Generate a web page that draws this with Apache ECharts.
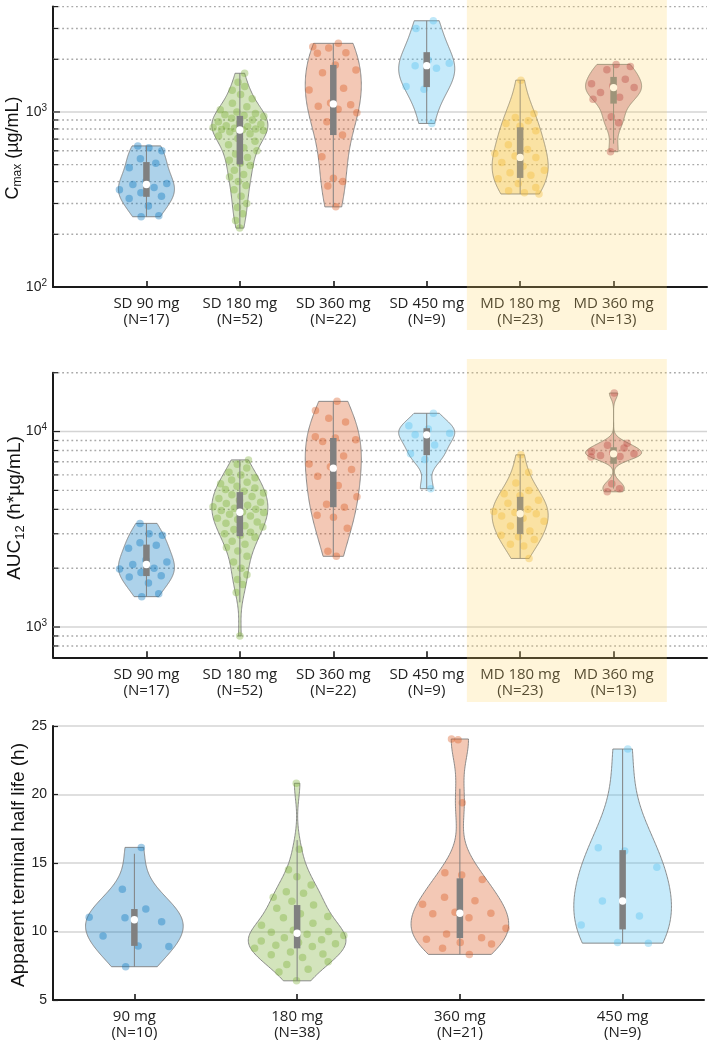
<!DOCTYPE html>
<html><head><meta charset="utf-8">
<script src="https://cdn.jsdelivr.net/npm/echarts@6/dist/echarts.min.js"></script>
<style>html,body{margin:0;padding:0;background:#fff}#c{width:709px;height:1044px}</style>
</head><body><div id="c"></div>
<script>
// ---------- categories ----------
const topCategories = ['SD 90 mg','SD 180 mg','SD 360 mg','SD 450 mg','MD 180 mg','MD 360 mg'];
const topCounts = [17,52,22,9,23,13];
const bottomCategories = ['90 mg','180 mg','360 mg','450 mg'];
const bottomCounts = [10,38,21,9];
const axisNames = ['C{sub|max} (µg/mL)', 'AUC{sub|12} (h*µg/mL)', 'Apparent terminal half life (h)'];

// ---------- Cmax (µg/mL) ----------
const cmaxSD90 = [252,255,290,320,330,345,360,370,385,390,400,480,510,540,600,625,640];
const cmaxSD180 = [217,240,262,285,300,330,360,380,400,425,440,465,495,510,530,550,575,600,625,650,680,705,730,750,770,785,792,795,800,808,815,825,835,850,865,880,900,920,945,955,965,980,1000,1030,1070,1120,1190,1260,1330,1400,1480,1664];
const cmaxSD360 = [287,378,400,418,555,738,880,991,1036,1080,1100,1125,1336,1366,1678,1739,1857,2165,2183,2320,2360,2467];
const cmaxSD450 = [860,1350,1400,1780,1840,1900,1980,3000,3320];
const cmaxMD180 = [340,345,355,370,390,415,435,450,465,490,515,550,560,580,610,650,780,830,860,890,930,980,1520];
const cmaxMD360 = [593,868,940,1182,1213,1290,1378,1413,1450,1538,1740,1820,1870];

// ---------- AUC12 (h*µg/mL) ----------
const aucSD90 = [1430,1480,1680,1800,1830,1900,1980,2000,2090,2150,2200,2530,2620,2700,2950,3000,3390];
const aucSD180 = [900,1500,1650,1750,1850,2000,2150,2300,2450,2550,2650,2750,2880,2950,3000,3050,3150,3250,3300,3400,3450,3550,3600,3700,3780,3850,3880,3950,4000,4050,4120,4200,4280,4350,4450,4550,4650,4750,4850,4950,5050,5150,5250,5400,5500,5650,5800,6000,6200,6500,6800,7160];
const aucSD360 = [2300,2440,3200,3640,3730,4100,4250,4640,5300,5900,6400,6600,6830,7500,8900,9070,9270,9400,11200,11700,12820,14270];
const aucSD450 = [5100,7200,7700,8540,9620,9800,10300,10700,12400];
const aucMD180 = [2243,2600,2650,2800,2900,2950,3100,3290,3480,3600,3700,3800,3850,3900,4000,4300,4450,4700,4800,5000,5460,6200,7600];
const aucMD360 = [4920,5100,5400,7400,7450,7550,7690,7800,7900,8250,8500,8720,15740];

// ---------- apparent terminal half life (h) ----------
const hl90 = [7.43,8.9,8.95,9.67,10.72,11.0,11.04,11.64,13.08,16.14];
const hl180 = [6.4,7.05,7.24,7.6,7.8,8.1,8.3,8.35,8.5,8.77,8.9,9.0,9.1,9.2,9.3,9.4,9.55,9.7,9.8,9.95,10.0,10.1,10.45,10.6,11.0,11.1,11.3,11.7,11.93,12.2,12.5,12.8,12.9,13.4,14.0,14.5,16.0,20.82];
const hl360 = [8.33,8.77,9.09,9.2,9.43,9.55,9.82,10.23,11.0,11.3,11.33,11.4,11.98,12.25,12.5,13.8,14.12,14.29,19.4,24.0,24.05];
const hl450 = [9.15,9.2,10.47,11.13,12.23,14.69,15.88,16.12,23.32];

// ---------- axis ticks / grid values ----------
const cmaxMajor = [1000];
const cmaxMinor = [200,300,400,500,600,700,800,900,2000,3000,4000];
const aucMajor = [1000,10000];
const aucMinor = [800,900,2000,3000,4000,5000,6000,7000,8000,9000,20000];
const shadeRange = [4.43, 6.57];

// ---------- styling ----------
const topColors = [[0,114,189],[119,172,48],[217,83,25],[77,190,238],[237,177,32],[162,20,47]];
const bottomColors = [[0,114,189],[119,172,48],[217,83,25],[77,190,238]];
const VW = 0.3;
const rgba = (c,a)=>`rgba(${c[0]},${c[1]},${c[2]},${a})`;

function quantile(sorted, p){
  const n = sorted.length; const pos = n*p + 0.5;
  if (pos <= 1) return sorted[0];
  if (pos >= n) return sorted[n-1];
  const f = Math.floor(pos), r = pos - f;
  return sorted[f-1] + r*(sorted[f]-sorted[f-1]);
}
function buildGroup(vals, pos, color, isLog, gi){
  const tr = isLog ? (v=>Math.log10(v)) : (v=>v);
  const inv = isLog ? (t=>Math.pow(10,t)) : (t=>t);
  const t = vals.map(tr).sort((a,b)=>a-b);
  const n = t.length;
  const med = quantile(t,0.5);
  const dev = t.map(x=>Math.abs(x-med)).sort((a,b)=>a-b);
  let sig = quantile(dev,0.5)/0.6745;
  if (!(sig>0)) sig = (t[n-1]-t[0]) || 1;
  const bw = sig*Math.pow(4/(3*n),0.2);
  const dens = x => { let s=0; for (const v of t){ const z=(x-v)/bw; s+=Math.exp(-0.5*z*z);} return s; };
  const M = 140, tv=[], dv=[];
  for (let i=0;i<=M;i++){ const x = t[0]+(t[n-1]-t[0])*i/M; tv.push(x); dv.push(dens(x)); }
  const dmax = Math.max(...dv);
  const hw = dv.map(d=>VW*d/dmax);
  const q1 = quantile(t,0.25), q3 = quantile(t,0.75), iqr=q3-q1;
  const lo = Math.max(q1-1.5*iqr, t[0]), hi = Math.min(q3+1.5*iqr, t[n-1]);
  const pts = t.map((x,k)=>{
    const j = ((k*0.6180339887 + 0.31 + gi*0.17) % 1)*2 - 1;
    return [pos + j*VW*dens(x)/dmax, inv(x)];
  });
  return {pos, color, vals: tv.map(inv), hw, q1:inv(q1), q3:inv(q3), med:inv(med), lo:inv(lo), hi:inv(hi), pts};
}

const cmaxGroups = [cmaxSD90,cmaxSD180,cmaxSD360,cmaxSD450,cmaxMD180,cmaxMD360].map((g,i)=>buildGroup(g,i+1,topColors[i],true,i));
const aucGroups = [aucSD90,aucSD180,aucSD360,aucSD450,aucMD180,aucMD360].map((g,i)=>buildGroup(g,i+1,topColors[i],true,i));
const hlGroups = [hl90,hl180,hl360,hl450].map((g,i)=>buildGroup(g,i,bottomColors[i],false,i));
const panels = [cmaxGroups, aucGroups, hlGroups];

const topLabels = topCategories.map((c,i)=>c+'\n(N='+topCounts[i]+')');
const bottomLabels = bottomCategories.map((c,i)=>c+'\n(N='+bottomCounts[i]+')');

const FONT_X = 'Open Sans';
const FONT_Y = 'Liberation Sans';

function violinSeries(pi){
  const gs = panels[pi];
  return {type:'custom', xAxisIndex:pi, yAxisIndex:pi, z:2, silent:true,
    data: gs.map((g,i)=>[g.pos, g.med, i]),
    renderItem:(params, api)=>{
      const g = gs[api.value(2)];
      const R=[], L=[];
      for (let i=0;i<g.vals.length;i++){
        R.push(api.coord([g.pos+g.hw[i], g.vals[i]]));
        L.push(api.coord([g.pos-g.hw[i], g.vals[i]]));
      }
      return {type:'polygon', shape:{points:R.concat(L.reverse())},
        style:{fill:rgba(g.color,0.32), stroke:'#7f7f7f', lineWidth:0.9}};
    }};
}
function scatterSeries(pi){
  const gs = panels[pi]; const data=[];
  gs.forEach(g=>g.pts.forEach(p=>data.push({value:p, itemStyle:{color:rgba(g.color,0.45)}})));
  return {type:'scatter', xAxisIndex:pi, yAxisIndex:pi, z:3, silent:true, symbolSize:7.5, data};
}
function boxSeries(pi){
  const gs = panels[pi];
  return {type:'custom', xAxisIndex:pi, yAxisIndex:pi, z:4, silent:true,
    data: gs.map((g,i)=>[g.pos, g.med, i]),
    renderItem:(params, api)=>{
      const g = gs[api.value(2)];
      const pLo = api.coord([g.pos,g.lo]), pHi = api.coord([g.pos,g.hi]);
      const pQ1 = api.coord([g.pos,g.q1]), pQ3 = api.coord([g.pos,g.q3]);
      const pM = api.coord([g.pos,g.med]);
      const w = 6.5;
      return {type:'group', children:[
        {type:'line', shape:{x1:pLo[0],y1:pLo[1],x2:pHi[0],y2:pHi[1]}, style:{stroke:'#808080',lineWidth:1}},
        {type:'rect', shape:{x:pQ3[0]-w/2, y:pQ3[1], width:w, height:pQ1[1]-pQ3[1]}, style:{fill:'#808080'}},
        {type:'circle', shape:{cx:pM[0], cy:pM[1], r:3.7}, style:{fill:'#ffffff'}}
      ]};
    }};
}
function gridSeries(pi, major, minor){
  const data = major.map(v=>[0,v,1]).concat(minor.map(v=>[0,v,0]));
  return {type:'custom', xAxisIndex:pi, yAxisIndex:pi, z:1, silent:true, data,
    renderItem:(params, api)=>{
      const cs = params.coordSys;
      const y = api.coord([0, api.value(1)])[1];
      const isMaj = api.value(2) === 1;
      return {type:'group', children:[
        {type:'line', shape:{x1:cs.x, y1:y, x2:cs.x+cs.width, y2:y},
          style: isMaj ? {stroke:'#d4d4d4', lineWidth:1.5} : {stroke:'#a9a9a9', lineWidth:1.4, lineDash:[1.8,2.8]}},
        {type:'line', shape:{x1:cs.x, y1:y, x2:cs.x+(isMaj?7:5), y2:y}, style:{stroke:'#222', lineWidth:1.2}}
      ]};
    }};
}

function xAxisCfg(gi, min, max, vals, labels){
  return {type:'value', gridIndex:gi, min, max, interval:1,
    axisLine:{show:true, onZero:false, lineStyle:{color:'#1a1a1a', width:2}},
    axisTick:{show:true, inside:true, length:6, customValues:vals, lineStyle:{color:'#1a1a1a', width:1.6}},
    axisLabel:{show:true, customValues:vals, margin:9, fontFamily:FONT_X, fontSize:15, color:'#222', lineHeight:16,
      formatter:(v)=>{ const i = vals.indexOf(Math.round(v)); return (i>=0 && Math.abs(v-Math.round(v))<1e-6) ? labels[i] : ''; }},
    splitLine:{show:false}};
}
const supRich = {b:{fontSize:14, fontFamily:FONT_Y, color:'#222', lineHeight:18}, s:{fontSize:10, fontFamily:FONT_Y, color:'#222', verticalAlign:'top', lineHeight:12}};
function logAxisCfg(gi, min, max){
  return {type:'log', logBase:10, gridIndex:gi, min, max,
    axisLine:{show:true, onZero:false, lineStyle:{color:'#1a1a1a', width:2}},
    axisTick:{show:false},
    axisLabel:{show:true, margin:6, rich:supRich,
      formatter:(v)=>{ const e=Math.log10(v); return Math.abs(e-Math.round(e))<1e-6 ? '{b|10}{s|'+Math.round(e)+'}' : ''; }},
    splitLine:{show:false}};
}

const chart = echarts.init(document.getElementById('c'), null, {renderer:'canvas'});
chart.setOption({
  animation:false,
  backgroundColor:'#ffffff',
  grid:[
    {left:53, top:6.6, width:654, height:280.4, containLabel:false, outerBoundsMode:'none'},
    {left:53, top:372.7, width:654, height:284.6, containLabel:false, outerBoundsMode:'none'},
    {left:53, top:726, width:651, height:274, containLabel:false, outerBoundsMode:'none'}
  ],
  xAxis:[
    xAxisCfg(0,0,7,[1,2,3,4,5,6],topLabels),
    xAxisCfg(1,0,7,[1,2,3,4,5,6],topLabels),
    xAxisCfg(2,-0.5,3.5,[0,1,2,3],bottomLabels)
  ],
  yAxis:[
    logAxisCfg(0,100,4000),
    logAxisCfg(1,700,20000),
    {type:'value', gridIndex:2, min:5, max:25, interval:5,
      axisLine:{show:true, onZero:false, lineStyle:{color:'#1a1a1a', width:2}},
      axisTick:{show:true, inside:true, length:5, lineStyle:{color:'#222', width:1.2}},
      axisLabel:{margin:6, fontFamily:FONT_Y, fontSize:14, color:'#222'},
      splitLine:{show:true, lineStyle:{color:'#d4d4d4', width:1.5}}}
  ],
  series:[
    gridSeries(0,cmaxMajor,cmaxMinor), gridSeries(1,aucMajor,aucMinor),
    violinSeries(0), violinSeries(1), violinSeries(2),
    scatterSeries(0), scatterSeries(1), scatterSeries(2),
    boxSeries(0), boxSeries(1), boxSeries(2)
  ]
});
const sx0 = chart.convertToPixel({xAxisIndex:0}, shadeRange[0]);
const sx1 = chart.convertToPixel({xAxisIndex:0}, shadeRange[1]);
const nameRich = (fs)=>({sub:{fontFamily:FONT_Y, fontSize:Math.round(fs*0.68), fill:'#111', verticalAlign:'bottom', lineHeight:fs+4}});
function nameText(txt, cx, cy, fs){
  return {type:'text', silent:true, z:50, x:cx, y:cy, rotation:Math.PI/2,
    style:{text:txt, fontFamily:FONT_Y, fontSize:fs, fill:'#111', align:'center', verticalAlign:'middle', lineHeight:fs+4, rich:nameRich(fs)}};
}
chart.setOption({graphic:[
  nameText(axisNames[0], 13, 148, 18),
  nameText(axisNames[1], 15, 508, 19),
  nameText(axisNames[2], 19, 865, 19),
  {type:'rect', silent:true, z:100, shape:{x:sx0, y:0, width:sx1-sx0, height:330}, style:{fill:'rgba(255,214,100,0.24)'}},
  {type:'rect', silent:true, z:100, shape:{x:sx0, y:359, width:sx1-sx0, height:343}, style:{fill:'rgba(255,214,100,0.24)'}}
]});
</script></body></html>
